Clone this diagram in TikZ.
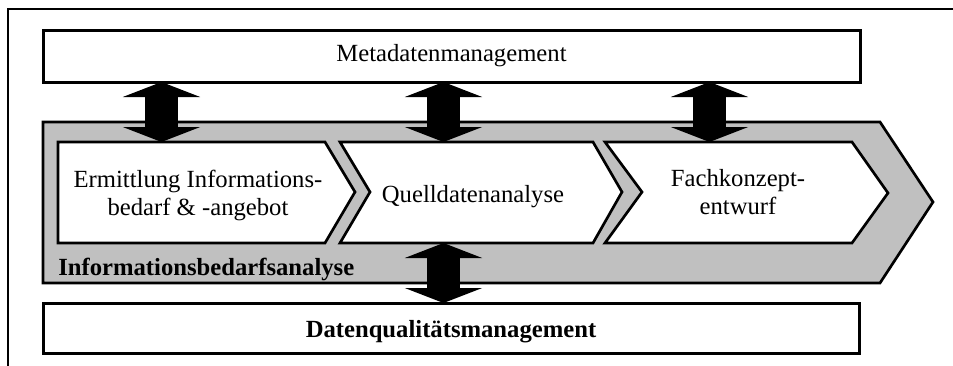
\documentclass[tikz,border=0pt]{standalone}
\usepackage{fontspec}
\setmainfont{Liberation Serif}
\usetikzlibrary{arrows.meta}
\definecolor{bandgray}{RGB}{192,192,192}
\begin{document}
\begin{tikzpicture}[x=0.75pt,y=-0.75pt,
  box/.style={draw, line width=2.25pt, fill=white, inner sep=0pt, outer sep=0pt,
    font=\fontsize{18.5}{21}\selectfont},
  outline/.style={draw, line width=2pt, line join=miter},
  label/.style={font=\fontsize{18.5}{21}\selectfont, align=center, inner sep=0pt},
  boldlabel/.style={font=\fontsize{18.5}{21}\selectfont\bfseries, inner sep=0pt},
  updown/.style={line width=24.75pt,
    {Triangle[length=11.25pt,width=57.75pt]}-{Triangle[length=11.25pt,width=57.75pt]}}
]
\useasboundingbox (0,0) rectangle (953,365);
\clip (0,0) rectangle (953,365);

% surrounding frame, running off the page at right and bottom
\draw[line width=1.5pt] (8,400) -- (8,9) -- (1000,9);

% management layers
\node[box, minimum width=612.75pt, minimum height=39pt] (meta) at (451.5,56) {Metadatenmanagement};
\node[box, minimum width=612pt, minimum height=37.5pt] (dq) at (451,328) {};
\node[boldlabel, anchor=base] (dqtext) at (451,337) {Datenqualitätsmanagement};

% process band
\draw[outline, fill=bandgray] (43,122) -- (880,122) -- (933,202) -- (880,283) -- (43,283) -- cycle;

% phase chevrons
\draw[outline, fill=white] (58,142) -- (325,142) -- (355,192) -- (325,243) -- (58,243) -- cycle;
\draw[outline, fill=white] (340,142) -- (593,142) -- (622,192) -- (593,243) -- (340,243) -- (370,192) -- cycle;
\draw[outline, fill=white] (605,142) -- (852,142) -- (888,193) -- (852,243) -- (605,243) -- (642,192) -- cycle;

\node[label] (ermittlung) at (198,195) {Ermittlung Informations-\\bedarf \& -angebot};
\node[label, anchor=base] (quell) at (473,202) {Quelldatenanalyse};
\node[label] (fach) at (738,192) {Fachkonzept-\\entwurf};
\node[boldlabel, anchor=base west] (iba) at (58,275) {Informationsbedarfsanalyse};

% exchange arrows
\coordinate (p1) at (161.5,142);
\coordinate (p2) at (443.5,142);
\coordinate (p3) at (709.5,142);
\coordinate (q) at (443.5,243);
\draw[updown] (meta.south -| p1) -- (p1);
\draw[updown] (meta.south -| p2) -- (p2);
\draw[updown] (meta.south -| p3) -- (p3);
\draw[updown] (q) -- (dq.north -| q);
\end{tikzpicture}
\end{document}
